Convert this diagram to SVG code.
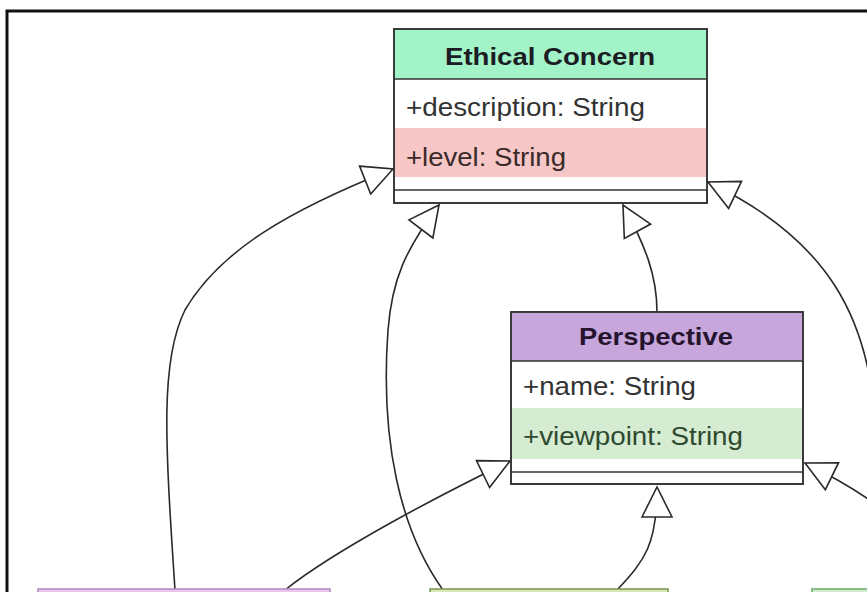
<svg xmlns="http://www.w3.org/2000/svg" width="867" height="592" viewBox="0 0 867 592">
<style>
.box{stroke:#333;stroke-width:1.6}
.sep{stroke:#333;stroke-width:1.6}
.ttl{font-family:"Liberation Sans",Arial,sans-serif;font-weight:bold;font-size:24px;fill:#1c1c24}
.att{font-family:"Liberation Sans",Arial,sans-serif;font-size:25px;fill:#333}
.conn{fill:none;stroke:#2a2a2a;stroke-width:1.6}
</style>
<defs>
<marker id="tri" markerUnits="userSpaceOnUse" markerWidth="36" markerHeight="36" refX="32" refY="17" orient="auto">
<path d="M2,2 L32,17 L2,32 Z" fill="#fff" stroke="#2a2a2a" stroke-width="1.6"/>
</marker>
</defs>
<rect x="0" y="0" width="867" height="592" fill="#fff"/>
<path d="M7,592 L7,11 L867,11" fill="none" stroke="#111" stroke-width="3"/>

<g id="connectors">
<path class="conn" d="M175,590 C165,440 160,360 185,310 C220,250 290,210 393,169" marker-end="url(#tri)"/>
<path class="conn" d="M443,590 C400,530 380,440 388,330 C392,280 405,250 439,205" marker-end="url(#tri)"/>
<path class="conn" d="M657,312 C657,275 645,245 623,205" marker-end="url(#tri)"/>
<path class="conn" d="M875,420 C868,320 830,240 708,182" marker-end="url(#tri)"/>
<path class="conn" d="M285,590 C335,550 440,495 510,461" marker-end="url(#tri)"/>
<path class="conn" d="M617,590 C645,560 657,545 657,487" marker-end="url(#tri)"/>
<path class="conn" d="M900,525 C880,505 850,485 805,463" marker-end="url(#tri)"/>
</g>

<g id="ethical-concern">
<rect class="box" x="394" y="29" width="313" height="174" fill="#fff"/>
<rect x="395" y="30" width="311" height="49" fill="#a2f3c8"/>
<rect x="395" y="128" width="311" height="49" fill="#f6c7c6"/>
<line class="sep" x1="394" y1="79" x2="707" y2="79"/>
<line class="sep" x1="394" y1="190" x2="707" y2="190"/>
<rect class="box" x="394" y="29" width="313" height="174" fill="none"/>
<text class="ttl" x="445" y="65" textLength="210" lengthAdjust="spacingAndGlyphs" fill="#13301f">Ethical Concern</text>
<text class="att" x="406" y="116" textLength="239" lengthAdjust="spacingAndGlyphs">+description: String</text>
<text class="att" x="406" y="166" textLength="160" lengthAdjust="spacingAndGlyphs" style="fill:#3a2a2a">+level: String</text>
</g>

<g id="perspective">
<rect class="box" x="511" y="312" width="292" height="172" fill="#fff"/>
<rect x="512" y="313" width="290" height="48" fill="#c6a6db"/>
<rect x="512" y="408" width="290" height="51" fill="#d5ebd2"/>
<line class="sep" x1="511" y1="361" x2="803" y2="361"/>
<line class="sep" x1="511" y1="472" x2="803" y2="472"/>
<rect class="box" x="511" y="312" width="292" height="172" fill="none"/>
<text class="ttl" x="579" y="345" textLength="154" lengthAdjust="spacingAndGlyphs" style="fill:#24142e">Perspective</text>
<text class="att" x="523" y="395" textLength="173" lengthAdjust="spacingAndGlyphs">+name: String</text>
<text class="att" x="523" y="445" textLength="220" lengthAdjust="spacingAndGlyphs" style="fill:#2e4a2e">+viewpoint: String</text>
</g>

<g id="node-bottom-left">
<rect class="box" x="38" y="589" width="292" height="20" fill="#e9c6f0" style="stroke:#b58cc0"/>
</g>
<g id="node-bottom-middle">
<rect class="box" x="430" y="589" width="238" height="20" fill="#d9e8b8" style="stroke:#7f9a5a"/>
</g>
<g id="node-bottom-right">
<rect class="box" x="812" y="589" width="80" height="20" fill="#cfeccf" style="stroke:#6fae6f"/>
</g>
</svg>
